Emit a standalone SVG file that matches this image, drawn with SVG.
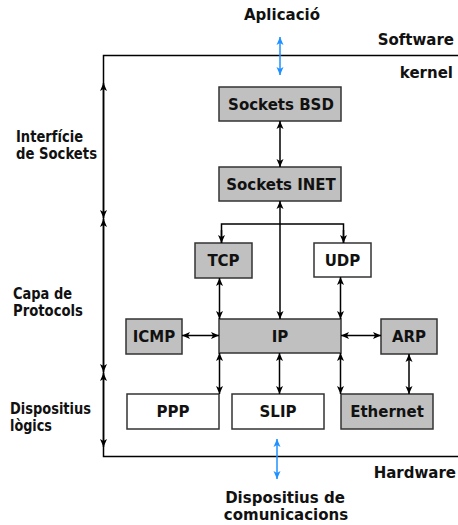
<svg xmlns="http://www.w3.org/2000/svg" width="458" height="525" viewBox="0 0 458 525">
<defs>
<marker id="ah" viewBox="0 0 8 8" refX="8" refY="4" markerWidth="8" markerHeight="8" markerUnits="userSpaceOnUse" orient="auto-start-reverse">
<path d="M0,0.5 L8,4 L0,7.5 L2,4 z" fill="#000"/>
</marker>
<marker id="ahb" viewBox="0 0 8 8" refX="8" refY="4" markerWidth="8" markerHeight="8" markerUnits="userSpaceOnUse" orient="auto-start-reverse">
<path d="M0,0.5 L8,4 L0,7.5 L2,4 z" fill="#1E90FF"/>
</marker>
<style>
text{font-family:"DejaVu Sans",Verdana,sans-serif;font-weight:bold;font-size:15px;fill:#111}
.c{text-anchor:middle}
.r{text-anchor:end}
.g{fill:#c0c0c0;stroke:#333;stroke-width:1.5}
.w{fill:#fff;stroke:#333;stroke-width:1.5}
.ln{stroke:#000;stroke-width:1.5;fill:none}
.a2{stroke:#000;stroke-width:1.5;fill:none;marker-start:url(#ah);marker-end:url(#ah)}
.a1{stroke:#000;stroke-width:1.5;fill:none;marker-end:url(#ah)}
.bl{stroke:#1E90FF;stroke-width:1.5;fill:none;marker-start:url(#ahb);marker-end:url(#ahb)}
</style>
</defs>

<g id="frame">
<path class="ln" d="M458,55.5 H103.5 V456.5 H458"/>
<text class="r" x="454" y="45">Software</text>
<text class="r" x="453" y="78">kernel</text>
<text class="r" x="456" y="478">Hardware</text>
</g>

<g id="labels">
<text x="16" y="142" textLength="67" lengthAdjust="spacingAndGlyphs">Interfície</text>
<text x="16" y="159" textLength="81" lengthAdjust="spacingAndGlyphs">de Sockets</text>
<text x="13" y="299" textLength="59" lengthAdjust="spacingAndGlyphs">Capa de</text>
<text x="13" y="316" textLength="70" lengthAdjust="spacingAndGlyphs">Protocols</text>
<text x="10" y="414" textLength="81" lengthAdjust="spacingAndGlyphs">Dispositius</text>
<text x="10" y="431" textLength="42" lengthAdjust="spacingAndGlyphs">lògics</text>
</g>

<g id="aplicacio"><text class="c" x="282" y="20">Aplicació</text></g>
<g id="dispositius-com">
<text class="c" x="285" y="503">Dispositius de</text>
<text class="c" x="286" y="520">comunicacions</text>
</g>

<g id="sockets-bsd"><rect class="g" x="219" y="87" width="122" height="34"/><text class="c" x="281" y="110">Sockets BSD</text></g>
<g id="sockets-inet"><rect class="g" x="219" y="167" width="122" height="34"/><text class="c" x="281" y="190">Sockets INET</text></g>
<g id="tcp"><rect class="g" x="195" y="243" width="57" height="35"/><text class="c" x="223.5" y="266">TCP</text></g>
<g id="udp"><rect class="w" x="314" y="243" width="57" height="34"/><text class="c" x="342.5" y="266">UDP</text></g>
<g id="icmp"><rect class="g" x="126" y="319" width="56" height="35"/><text class="c" x="154" y="342">ICMP</text></g>
<g id="ip"><rect class="g" x="219" y="319" width="122" height="34"/><text class="c" x="280" y="342">IP</text></g>
<g id="arp"><rect class="g" x="381" y="319" width="56" height="35"/><text class="c" x="409" y="342">ARP</text></g>
<g id="ppp"><rect class="w" x="127" y="394" width="92" height="35"/><text class="c" x="173" y="417">PPP</text></g>
<g id="slip"><rect class="w" x="232" y="394" width="92" height="35"/><text class="c" x="278" y="417">SLIP</text></g>
<g id="ethernet"><rect class="g" x="341" y="394" width="92" height="35"/><text class="c" x="387" y="417">Ethernet</text></g>

<g id="connectors">
<line class="bl" x1="280" y1="37" x2="280" y2="75"/>
<line class="bl" x1="277" y1="439" x2="277" y2="479"/>
<line class="a1" x1="103.5" y1="150" x2="103.5" y2="83"/>
<line class="a1" x1="103.5" y1="150" x2="103.5" y2="218"/>
<line class="a1" x1="103.5" y1="300" x2="103.5" y2="219"/>
<line class="a1" x1="103.5" y1="300" x2="103.5" y2="372"/>
<line class="a1" x1="103.5" y1="420" x2="103.5" y2="373"/>
<line class="a1" x1="103.5" y1="420" x2="103.5" y2="447"/>
<line class="a2" x1="280" y1="121" x2="280" y2="167"/>
<line class="a2" x1="280" y1="201" x2="280" y2="319"/>
<path class="ln" d="M221.5,243 V224 H343.5 V243"/>
<line class="a1" x1="221.5" y1="230" x2="221.5" y2="243"/>
<line class="a1" x1="343.5" y1="230" x2="343.5" y2="243"/>
<line class="a2" x1="219.5" y1="278" x2="219.5" y2="319"/>
<line class="a2" x1="340.5" y1="277" x2="340.5" y2="319"/>
<line class="a2" x1="182" y1="335.5" x2="219" y2="335.5"/>
<line class="a2" x1="341" y1="335.5" x2="381" y2="335.5"/>
<line class="a2" x1="219.5" y1="353" x2="219.5" y2="394"/>
<line class="a2" x1="279.5" y1="353" x2="279.5" y2="394"/>
<line class="a2" x1="340.5" y1="353" x2="340.5" y2="394"/>
<line class="a2" x1="409" y1="354" x2="409" y2="394"/>
</g>
</svg>
